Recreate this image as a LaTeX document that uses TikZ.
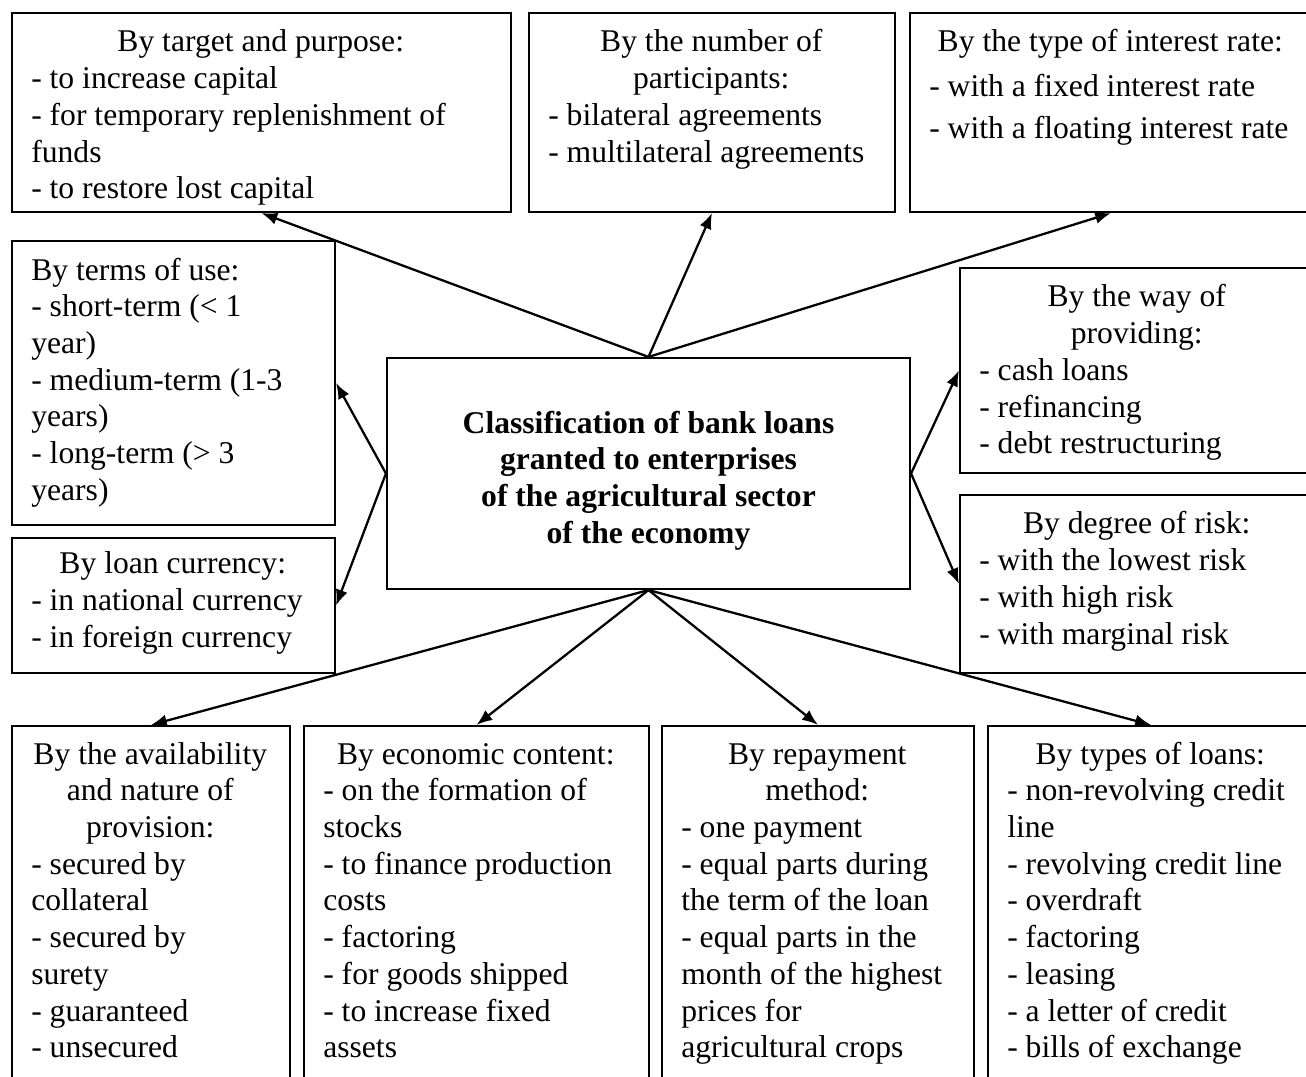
\documentclass[tikz,border=0pt]{standalone}
\usepackage{fontspec}
\setmainfont{Liberation Serif}
\usetikzlibrary{positioning,arrows.meta,calc,fit}

\newcommand{\boxfont}{\fontsize{18}{20.9}\selectfont}
\newcommand{\hd}[2]{\makebox[#1][c]{#2}}

\begin{document}
\begin{tikzpicture}[x=0.02cm, y=-0.02cm,
    box/.style={draw, line width=1.2pt, inner sep=0pt},
    txt/.style={anchor=north west, inner sep=0pt, align=left, font=\boxfont},
    arr/.style={-{Latex[length=9pt,width=7pt]}, line width=1.3pt}]
  \path[use as bounding box, fill=white] (0,0) rectangle (1306,1077);
  \clip (0,0) rectangle (1306,1077);

  % centre
  \node[box, fit={(387,358) (910,589)}] (main) {};
  \node[align=center, font=\boxfont\bfseries] (main-t) at ($(main.center)+(0,7)$)
    {Classification of bank loans\\granted to enterprises\\of the agricultural sector\\of the economy};

  % top row
  \node[box, fit={(12,13) (511,212)}] (tgt) {};
  \node[txt] (tgt-t) at ($(tgt.north west)+(20,14)$)
    {\hd{9.18cm}{\strut By target and purpose:}\\- to increase capital\\- for temporary replenishment of\\funds\\- to restore lost capital};
  \node[box, fit={(529,13) (895,212)}] (prt) {};
  \node[txt] (prt-t) at ($(prt.north west)+(20,14)$)
    {\hd{6.52cm}{\strut By the number of}\\\hd{6.52cm}{participants:}\\- bilateral agreements\\- multilateral agreements};
  \node[box, fit={(910,13) (1312,212)}] (rate) {};
  \node[txt] (rate-t) at ($(rate.north west)+(20,14)$)
    {\hd{7.24cm}{\strut By the type of interest rate:}\\[4.5pt]- with a fixed interest rate\\[3pt]- with a floating interest rate};

  % left column
  \node[box, fit={(12,241) (335,525)}] (term) {};
  \node[txt] (term-t) at ($(term.north west)+(20,14)$)
    {\strut By terms of use:\\- short-term (< 1\\year)\\- medium-term (1-3\\years)\\- long-term (> 3\\years)};
  \node[box, fit={(12,538) (335,673)}] (cur) {};
  \node[txt] (cur-t) at ($(cur.north west)+(20,11)$)
    {\hd{5.66cm}{\strut By loan currency:}\\- in national currency\\- in foreign currency};

  % right column
  \node[box, fit={(960,268) (1315,473)}] (way) {};
  \node[txt] (way-t) at ($(way.north west)+(20,14)$)
    {\hd{6.30cm}{\strut By the way of}\\\hd{6.30cm}{providing:}\\- cash loans\\- refinancing\\- debt restructuring};
  \node[box, fit={(960,495) (1315,673)}] (risk) {};
  \node[txt] (risk-t) at ($(risk.north west)+(20,14)$)
    {\hd{6.30cm}{\strut By degree of risk:}\\- with the lowest risk\\- with high risk\\- with marginal risk};

  % bottom row
  \node[box, fit={(12,726) (290,1100)}] (sec) {};
  \node[txt] (sec-t) at ($(sec.north west)+(20,13)$)
    {\hd{4.76cm}{\strut By the availability}\\\hd{4.76cm}{and nature of}\\\hd{4.76cm}{provision:}\\- secured by\\collateral\\- secured by\\surety\\- guaranteed\\- unsecured};
  \node[box, fit={(304,726) (649,1100)}] (econ) {};
  \node[txt] (econ-t) at ($(econ.north west)+(20,13)$)
    {\hd{6.10cm}{\strut By economic content:}\\- on the formation of\\stocks\\- to finance production\\costs\\- factoring\\- for goods shipped\\- to increase fixed\\assets};
  \node[box, fit={(662,726) (974,1100)}] (rep) {};
  \node[txt] (rep-t) at ($(rep.north west)+(20,13)$)
    {\hd{5.44cm}{\strut By repayment}\\\hd{5.44cm}{method:}\\- one payment\\- equal parts during\\the term of the loan\\- equal parts in the\\month of the highest\\prices for\\agricultural crops};
  \node[box, fit={(988,726) (1314,1100)}] (kind) {};
  \node[txt] (kind-t) at ($(kind.north west)+(20,13)$)
    {\hd{5.72cm}{\strut By types of loans:}\\- non-revolving credit\\line\\- revolving credit line\\- overdraft\\- factoring\\- leasing\\- a letter of credit\\- bills of exchange};

  % arrows
  \draw[arr] (main.north) -- (tgt.south);
  \draw[arr] (main.north) -- (prt.south);
  \draw[arr] (main.north) -- (rate.south);
  \draw[arr] (main.west) -- (term.east);
  \draw[arr] (main.west) -- (cur.east);
  \draw[arr] (main.east) -- (way.west);
  \draw[arr] (main.east) -- (risk.west);
  \draw[arr] (main.south) -- (sec.north);
  \draw[arr] (main.south) -- (econ.north);
  \draw[arr] (main.south) -- (rep.north);
  \draw[arr] (main.south) -- (kind.north);
\end{tikzpicture}
\end{document}
